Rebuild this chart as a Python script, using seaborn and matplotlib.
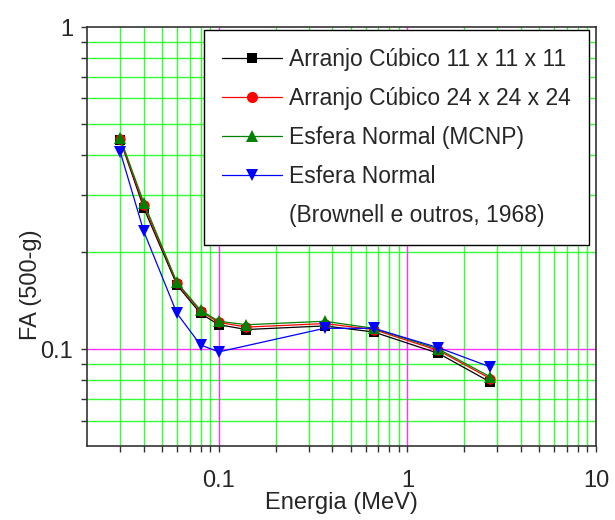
import matplotlib
matplotlib.use('Agg')
import matplotlib.pyplot as plt
from matplotlib.lines import Line2D
from matplotlib.ticker import FixedLocator, NullFormatter, FixedFormatter
import pandas as pd
import seaborn as sns

# data
energy = [0.03, 0.04, 0.06, 0.08, 0.1, 0.14, 0.364, 0.662, 1.46, 2.75]
fa_cubic_11 = [0.446, 0.274, 0.158, 0.129, 0.119, 0.115, 0.118, 0.113, 0.097, 0.079]
fa_cubic_24 = [0.448, 0.280, 0.160, 0.131, 0.121, 0.117, 0.120, 0.115, 0.099, 0.081]
fa_sphere_mcnp = [0.452, 0.285, 0.161, 0.132, 0.122, 0.119, 0.122, 0.116, 0.100, 0.082]
energy_brownell = [0.03, 0.04, 0.06, 0.08, 0.1, 0.364, 0.662, 1.46, 2.75]
fa_brownell = [0.410, 0.232, 0.129, 0.103, 0.098, 0.116, 0.116, 0.101, 0.088]

labels = ['Arranjo Cúbico 11 x 11 x 11', 'Arranjo Cúbico 24 x 24 x 24',
          'Esfera Normal (MCNP)', 'Esfera Normal']
extra_label = '(Brownell e outros, 1968)'

sns.set_style('ticks')
plt.rcParams['font.family'] = ['Liberation Sans', 'DejaVu Sans']

fig = plt.figure(figsize=(6.15, 5.2), dpi=100)
ax = fig.add_axes([0.1415, 0.1423, 0.8275, 0.8057])

series = [
    (energy, fa_cubic_11, 'black', 's', 7),
    (energy, fa_cubic_24, 'red', 'o', 7.5),
    (energy, fa_sphere_mcnp, 'green', '^', 8.5),
    (energy_brownell, fa_brownell, 'blue', 'v', 8.5),
]

handles = []
for (x, y, color, marker, ms), label in zip(series, labels):
    df = pd.DataFrame({'x': x, 'y': y})
    sns.lineplot(data=df, x='x', y='y', ax=ax, color=color, marker=marker,
                 markersize=ms, markeredgewidth=0, linewidth=0.9, sort=False,
                 zorder=3)
    handles.append(Line2D([], [], color=color, marker=marker, markersize=ms + 0.5,
                          markeredgewidth=0, linewidth=0.9))
handles.append(Line2D([], [], color='none'))

ax.set_xscale('log')
ax.set_yscale('log')
ax.set_xlim(0.02, 10)
ax.set_ylim(0.05, 1)

# gridlines: green minor, magenta decades
x_minor = [m * 10.0 ** e for e in (-2, -1, 0) for m in range(2, 10)]
x_minor = [v for v in x_minor if 0.02 < v < 10]
y_minor = [m * 10.0 ** e for e in (-2, -1) for m in range(2, 10)]
y_minor = [v for v in y_minor if 0.05 < v < 1]
for v in x_minor:
    ax.axvline(v, color='#33ff33', linewidth=1, zorder=1)
for v in y_minor:
    ax.axhline(v, color='#33ff33', linewidth=1, zorder=1)
for v in [0.1, 1]:
    ax.axvline(v, color='#ff33ff', linewidth=1, zorder=1)
ax.axhline(0.1, color='#ff33ff', linewidth=1, zorder=1)

ax.xaxis.set_major_locator(FixedLocator([0.1, 1, 10]))
ax.xaxis.set_major_formatter(FixedFormatter(['0.1', '1', '10']))
ax.xaxis.set_minor_locator(FixedLocator(x_minor))
ax.xaxis.set_minor_formatter(NullFormatter())
ax.yaxis.set_major_locator(FixedLocator([0.1, 1]))
ax.yaxis.set_major_formatter(FixedFormatter(['0.1', '1']))
ax.yaxis.set_minor_locator(FixedLocator(y_minor))
ax.yaxis.set_minor_formatter(NullFormatter())

ax.tick_params(axis='both', which='both', direction='out', length=4.3, width=1,
               color='#333333', labelsize=17)
ax.tick_params(axis='x', which='both', pad=13)
ax.tick_params(axis='y', which='both', pad=5.8)
for side in ['left', 'bottom', 'top', 'right']:
    ax.spines[side].set_color('#333333')
    ax.spines[side].set_linewidth(1.2)

ax.set_xlabel('Energia (MeV)', fontsize=17, labelpad=0)
ax.set_ylabel('FA (500-g)', fontsize=17)
ax.yaxis.set_label_coords(-0.088, 0.385)

leg = ax.legend(handles, labels + [extra_label], loc='upper right',
                bbox_to_anchor=(0.986, 0.994), borderaxespad=0,
                fontsize=16.5, frameon=True,
                fancybox=False, edgecolor='black', framealpha=1,
                handlelength=2.6, handletextpad=0.3, labelspacing=0.7,
                borderpad=0.8)
leg.get_frame().set_linewidth(1)
leg.set_zorder(5)

fig.savefig('out.png', dpi=100)
